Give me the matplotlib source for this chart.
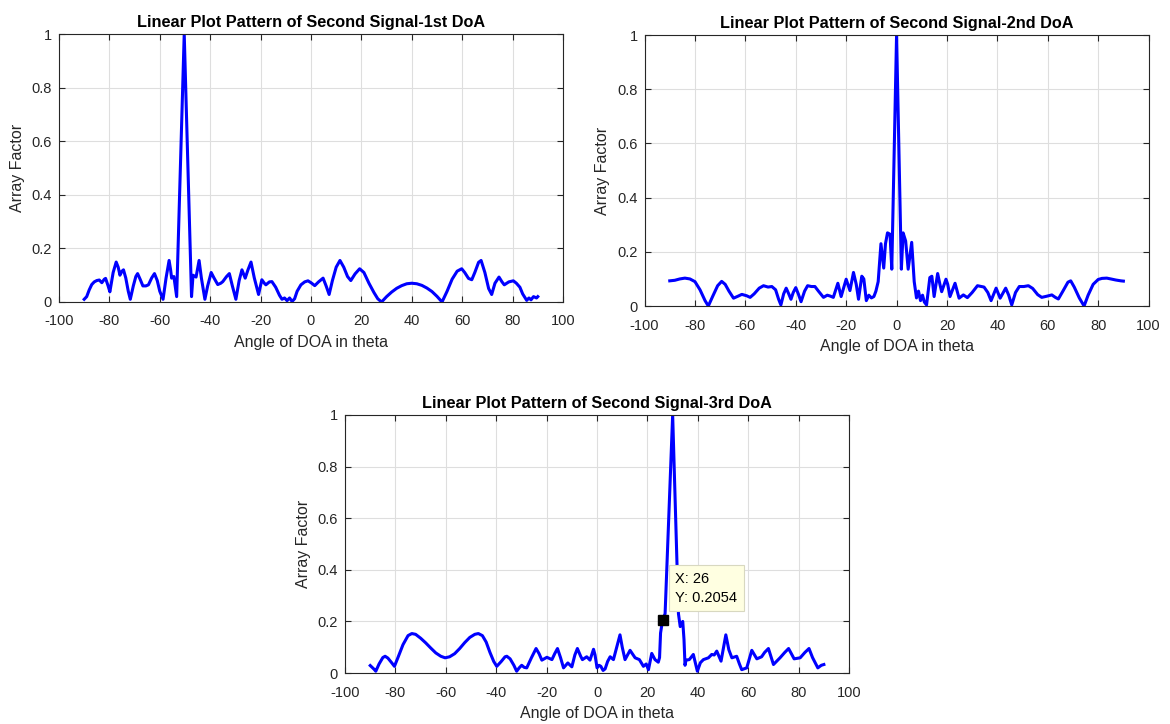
import matplotlib
matplotlib.use("Agg")
import matplotlib.pyplot as plt

plt.rcParams['font.family'] = ['Liberation Sans', 'DejaVu Sans']
plt.rcParams['axes.unicode_minus'] = False

# Values (angle in degrees, array factor)
theta_1st = [-90, -89, -88, -87, -86, -85, -84, -83, -82, -81.5, -80.5, -79.8, -78.5, -77.3,
             -76.5, -75.8, -75, -74.4, -73.5, -72.5, -71.7, -70.5, -69.5, -68.8, -67.8, -66.7,
             -65.5, -64.5, -63.2, -62.1, -61, -60, -58.7, -57.5, -56.3, -55.7, -55.3, -54.4,
             -53.9, -53.3, -50.3, -47.4, -46.8, -45.6, -44.4, -43.5, -42.8, -42.1, -41, -39.6,
             -38.5, -37, -35.8, -35, -33.5, -32.4, -31.2, -29.8, -28.5, -27.4, -26.1, -25,
             -23.8, -22.5, -20.8, -19.5, -18.5, -17.9, -16.5, -15.5, -14, -12.5, -11.5, -10.5,
             -9.5, -8.5, -7.5, -6.5, -5.5, -4, -2.5, -1.2, 0, 1.5, 3, 4.8, 6, 7.2, 8.5, 10,
             11.5, 13, 14.5, 15.8, 17.5, 19.3, 21, 23, 25, 26.5, 28, 30, 32, 34, 36, 38, 40,
             42, 44, 46, 48, 50, 52, 54, 56, 58, 59.8, 61, 62.5, 63.8, 65, 66.5, 67.5, 69,
             70.5, 71.7, 73, 74.6, 75.8, 76.7, 78.5, 80.3, 81.5, 82.9, 84, 85.6, 86.5, 87.3,
             88.3, 89.5, 90]
af_1st = [0.01, 0.02, 0.045, 0.065, 0.075, 0.08, 0.082, 0.072, 0.085, 0.088, 0.06, 0.038, 0.11,
          0.149, 0.13, 0.10, 0.115, 0.12, 0.09, 0.04, 0.01, 0.06, 0.095, 0.106, 0.085, 0.06,
          0.06, 0.064, 0.09, 0.106, 0.08, 0.04, 0.01, 0.09, 0.155, 0.12, 0.089, 0.095,
          0.06, 0.02, 1.0, 0.02, 0.1, 0.093, 0.155, 0.09, 0.05, 0.01, 0.06, 0.11,
          0.09, 0.065, 0.07, 0.076, 0.095, 0.106, 0.06, 0.01, 0.08, 0.12, 0.089, 0.12,
          0.149, 0.09, 0.028, 0.083, 0.07, 0.064, 0.075, 0.076, 0.055, 0.025, 0.01, 0.015,
          0.005, 0.015, 0.002, 0.012, 0.04, 0.064, 0.075, 0.079, 0.072, 0.061, 0.075, 0.089,
          0.06, 0.028, 0.08, 0.13, 0.155, 0.13, 0.095, 0.08, 0.105, 0.124, 0.11, 0.07,
          0.035, 0.012, 0.0, 0.02, 0.037, 0.051, 0.061, 0.068, 0.07, 0.068, 0.062, 0.052,
          0.039, 0.021, 0.0, 0.04, 0.085, 0.115, 0.124, 0.11, 0.088, 0.083, 0.11, 0.148,
          0.155, 0.11, 0.05, 0.028, 0.07, 0.093, 0.075, 0.064, 0.075, 0.079, 0.07, 0.055,
          0.03, 0.006, 0.015, 0.008, 0.02, 0.015, 0.02]

theta_2nd = [-90, -88, -86, -84, -82, -80, -78, -76, -74.7, -73, -71, -69.4, -68, -66.5, -64.7,
             -63, -61.4, -59.5, -58.1, -56.5, -54.5, -52.8, -51, -49.5, -48, -46.8, -45.9,
             -44.8, -43.8, -42.8, -41.9, -41, -40, -39, -37.9, -36.5, -35.3, -33.8, -32.4,
             -31, -29, -27.5, -26.4, -25.1, -23.3, -22, -20, -18.5, -17.1, -16, -15.1, -13.8,
             -13, -12, -11, -10, -9, -8.2, -7.3, -6.2, -5.1, -4.4, -3.6, -2.6, -1.9, 0, 1.9,
             2.6, 3.6, 4.6, 6, 7, 7.9, 8.7, 9.5, 10.3, 11, 11.9, 13.2, 14, 14.9, 16.3, 17.2,
             17.9, 19.6, 20.3, 21.2, 23.2, 24.8, 26.5, 28.1, 30, 32.1, 34.7, 36.2, 37.5, 39.5,
             41.1, 43.3, 44.5, 45.7, 47.2, 48.7, 50.5, 52.3, 54, 56, 57.6, 59.5, 61.6, 63,
             64.2, 66, 68, 69.1, 70.5, 72.5, 74.4, 76, 78, 80, 81.5, 83.4, 85, 87, 89, 90]
af_2nd = [0.093, 0.095, 0.1, 0.103, 0.1, 0.09, 0.06, 0.02, 0.0, 0.035, 0.075, 0.091, 0.08, 0.055,
          0.029, 0.036, 0.043, 0.038, 0.032, 0.045, 0.066, 0.075, 0.07, 0.072, 0.06, 0.025,
          0.004, 0.045, 0.066, 0.045, 0.025, 0.05, 0.068, 0.045, 0.016, 0.055, 0.075, 0.072,
          0.072, 0.055, 0.032, 0.04, 0.037, 0.032, 0.084, 0.035, 0.099, 0.057, 0.124, 0.08,
          0.025, 0.11, 0.1, 0.02, 0.04, 0.03, 0.035, 0.055, 0.09, 0.23, 0.14, 0.23, 0.27,
          0.265, 0.136, 1.0, 0.136, 0.27, 0.24, 0.136, 0.235, 0.09, 0.03, 0.055, 0.02, 0.04,
          0.015, 0.004, 0.105, 0.11, 0.035, 0.12, 0.08, 0.053, 0.099, 0.08, 0.035, 0.084,
          0.029, 0.041, 0.031, 0.05, 0.075, 0.07, 0.05, 0.02, 0.066, 0.029, 0.066, 0.04,
          0.004, 0.05, 0.072, 0.072, 0.075, 0.065, 0.042, 0.032, 0.036, 0.041, 0.032, 0.026,
          0.055, 0.088, 0.093, 0.07, 0.03, 0.0, 0.04, 0.08, 0.098, 0.102, 0.103, 0.1, 0.096,
          0.093, 0.092]

theta_3rd = [-90, -88.5, -87.8, -86.5, -85, -84.1, -83, -81.5, -80.4, -79, -77, -75, -73.5, -72,
             -70, -68, -66, -64, -62, -60.3, -58.5, -56.5, -54.5, -52.5, -50.5, -48.5, -47.1,
             -45.5, -44, -42.5, -41, -39.8, -38, -36.5, -35.8, -34.5, -33, -31.9, -30.9, -29.9,
             -28.9, -27.9, -26, -24.2, -23, -21.9, -19.9, -17.9, -16.8, -15.7, -14.5, -13.3,
             -11.6, -10, -8.8, -7.8, -6.5, -5.8, -4.1, -2.8, -1.4, -0.8, 0, 0.8, 1.5, 2.4, 3.2,
             4.2, 5.2, 6.5, 7.8, 9.1, 10, 11.1, 13.1, 15.1, 16.8, 18.4, 19.5, 20.4, 21.7, 23,
             24.3, 24.8, 25.2, 26, 27, 30, 32.3, 33, 34, 34.5, 34.9, 35.3, 36.6, 38.2, 39.8, 41,
             42.2, 44.2, 45.5, 46.5, 47.5, 49.2, 50.2, 51.1, 52.3, 53.5, 55.4, 56.5, 57.4, 59.4,
             61.4, 63.4, 65.3, 66.5, 68, 70, 72.6, 74.5, 76, 78.2, 80.6, 82.5, 84.1, 85.5, 87.6,
             89, 90]
af_3rd = [0.029, 0.015, 0.007, 0.035, 0.06, 0.065, 0.058, 0.04, 0.026, 0.06, 0.11, 0.145, 0.153,
          0.15, 0.135, 0.117, 0.097, 0.078, 0.065, 0.059, 0.063, 0.075, 0.095, 0.118, 0.138,
          0.15, 0.153, 0.145, 0.12, 0.08, 0.045, 0.026, 0.045, 0.063, 0.065, 0.055, 0.03,
          0.007, 0.02, 0.03, 0.022, 0.02, 0.06, 0.095, 0.075, 0.05, 0.061, 0.052, 0.075, 0.095,
          0.06, 0.02, 0.039, 0.024, 0.07, 0.095, 0.065, 0.052, 0.063, 0.05, 0.092, 0.07, 0.02,
          0.03, 0.026, 0.01, 0.016, 0.045, 0.063, 0.052, 0.1, 0.148, 0.1, 0.052, 0.088, 0.059,
          0.052, 0.026, 0.035, 0.013, 0.076, 0.052, 0.042, 0.06, 0.155, 0.2054, 0.23, 1.0,
          0.23, 0.18, 0.2, 0.13, 0.03, 0.05, 0.052, 0.072, 0.007, 0.04, 0.052, 0.059, 0.072,
          0.07, 0.085, 0.046, 0.1, 0.148, 0.09, 0.059, 0.065, 0.035, 0.013, 0.02, 0.088, 0.055,
          0.063, 0.08, 0.095, 0.033, 0.059, 0.08, 0.095, 0.055, 0.059, 0.08, 0.095, 0.06, 0.02,
          0.03, 0.033]

titles = ["Linear Plot Pattern of Second Signal-1st DoA",
          "Linear Plot Pattern of Second Signal-2nd DoA",
          "Linear Plot Pattern of Second Signal-3rd DoA"]
x_ticks = [-100, -80, -60, -40, -20, 0, 20, 40, 60, 80, 100]
y_ticks = [0, 0.2, 0.4, 0.6, 0.8, 1]
y_tick_labels = ["0", "0.2", "0.4", "0.6", "0.8", "1"]
tip_x, tip_y = 26, 0.2054

fig = plt.figure(figsize=(11.7, 7.24), dpi=100)
ax1 = fig.add_axes([0.0504, 0.5829, 0.4308, 0.370])
ax2 = fig.add_axes([0.5509, 0.5773, 0.4308, 0.3743])
ax3 = fig.add_axes([0.2949, 0.0704, 0.4308, 0.3564])

dark = '#262626'
for ax, th, af, title in [(ax1, theta_1st, af_1st, titles[0]),
                          (ax2, theta_2nd, af_2nd, titles[1]),
                          (ax3, theta_3rd, af_3rd, titles[2])]:
    ax.plot(th, af, color='#0000ff', linewidth=2.2)
    ax.set_xlim(-100, 100)
    ax.set_ylim(0, 1)
    ax.set_xticks(x_ticks)
    ax.set_yticks(y_ticks)
    ax.set_yticklabels(y_tick_labels)
    ax.grid(True, color='#dedede', linewidth=0.8)
    ax.set_axisbelow(True)
    ax.tick_params(direction='in', top=True, right=True, labelsize=10.5,
                   colors=dark, length=4)
    ax.tick_params(axis='x', pad=9)
    ax.tick_params(axis='y', pad=5)
    for sp in ax.spines.values():
        sp.set_color(dark)
    ax.set_title(title, fontsize=11.7, fontweight='bold', color='black', pad=5)
    ax.set_xlabel("Angle of DOA in theta", fontsize=11.5, color=dark, labelpad=5)
    ax.set_ylabel("Array Factor", fontsize=11.5, color=dark, labelpad=5)

# Data cursor on the third plot
ax3.plot([tip_x], [tip_y], marker='s', color='black', markersize=7, zorder=5)
ax3.annotate(f"X: {tip_x}\nY: {tip_y}", xy=(tip_x, tip_y), xytext=(9, 11),
             textcoords='offset points', ha='left', va='bottom', fontsize=10.5,
             color='black', linespacing=1.45,
             bbox=dict(boxstyle='square,pad=0.45', fc='#ffffe1', ec='#d8d8c0', lw=0.8),
             zorder=6)

fig.savefig("out.png", dpi=100)
